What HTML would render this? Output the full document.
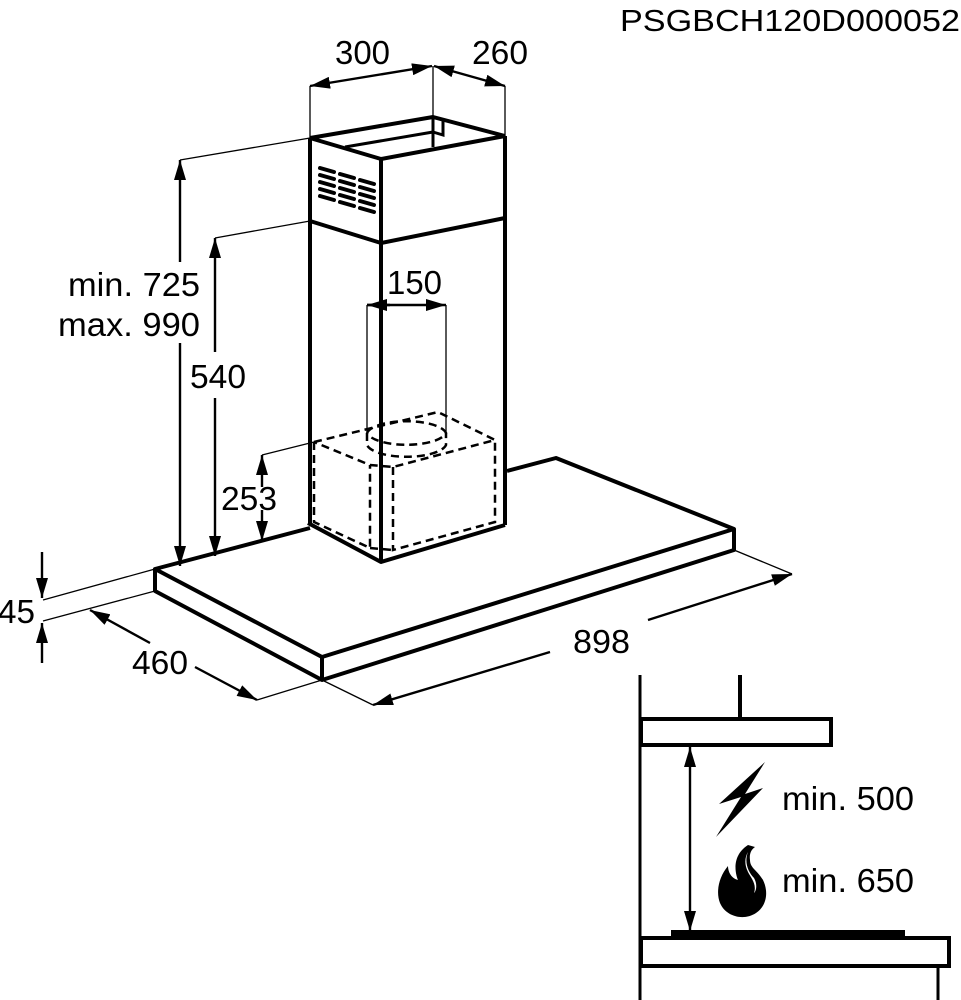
<!DOCTYPE html>
<html><head><meta charset="utf-8"><style>
html,body{margin:0;padding:0;background:#fff;width:961px;height:1000px;overflow:hidden}
svg{display:block}
text{font-family:"Liberation Sans",Arial,sans-serif;fill:#000}
</style></head><body>
<svg width="961" height="1000" viewBox="0 0 961 1000" xmlns="http://www.w3.org/2000/svg">
<defs>
<marker id="a" viewBox="0 0 20 12" refX="20" refY="6" markerWidth="20" markerHeight="12" markerUnits="userSpaceOnUse" orient="auto-start-reverse"><path d="M0,0L20,6L0,12z"/></marker>
</defs>
<text x="960" y="31" font-size="31" text-anchor="end" textLength="340" lengthAdjust="spacingAndGlyphs">PSGBCH120D000052</text>
<g stroke="#000" fill="none">
<g stroke-width="1.3">
<line x1="310" y1="86" x2="310" y2="138"/><line x1="433" y1="66" x2="433" y2="117"/><line x1="505" y1="86" x2="505" y2="136"/>
<line x1="180" y1="160" x2="310" y2="138"/>
<line x1="215" y1="238" x2="310" y2="221"/>
<line x1="262" y1="455" x2="314" y2="442"/>
<line x1="43" y1="600" x2="155" y2="569"/><line x1="43" y1="621" x2="155" y2="591"/>
<line x1="257" y1="700" x2="322" y2="680"/>
<line x1="322" y1="680" x2="373" y2="705"/><line x1="734" y1="550" x2="792" y2="574"/>
<line x1="367" y1="305" x2="367" y2="433"/><line x1="446" y1="305" x2="446" y2="433"/>
</g>
<g stroke-width="2.4">
<line x1="310" y1="86" x2="432" y2="66" marker-start="url(#a)" marker-end="url(#a)"/>
<line x1="434" y1="66" x2="505" y2="86" marker-start="url(#a)" marker-end="url(#a)"/>
<line x1="180" y1="160" x2="180" y2="262" marker-start="url(#a)"/>
<line x1="180" y1="343" x2="180" y2="566" marker-end="url(#a)"/>
<line x1="215" y1="238" x2="215" y2="352" marker-start="url(#a)"/>
<line x1="215" y1="398" x2="215" y2="556" marker-end="url(#a)"/>
<line x1="262" y1="455" x2="262" y2="487" marker-start="url(#a)"/>
<line x1="262" y1="510" x2="262" y2="541" marker-end="url(#a)"/>
<line x1="367" y1="305" x2="446" y2="305" marker-end="url(#a)"/>
<line x1="390" y1="305" x2="367" y2="305" marker-end="url(#a)"/>
<line x1="42" y1="552" x2="42" y2="598" marker-end="url(#a)"/>
<line x1="42" y1="663" x2="42" y2="623" marker-end="url(#a)"/>
<line x1="150" y1="643" x2="90" y2="610" marker-end="url(#a)"/>
<line x1="195" y1="667" x2="257" y2="700" marker-end="url(#a)"/>
<line x1="648" y1="620" x2="792" y2="574" marker-end="url(#a)"/>
<line x1="550" y1="652" x2="373" y2="705" marker-end="url(#a)"/>
<line x1="690" y1="747" x2="690" y2="931" marker-start="url(#a)" marker-end="url(#a)"/>
</g>
<g stroke-width="4" stroke-linejoin="round">
<polyline points="310,528 155,569 322,657 734,529 556,458 507,471"/>
<polyline points="155,569 155,591 322,680 734,550 734,529"/>
<line x1="322" y1="657" x2="322" y2="680"/>
<polyline points="310,138 381,159 505,136"/>
<polyline points="310,138 433,117 505,136"/>
<line x1="310" y1="138" x2="310" y2="523"/>
<line x1="381" y1="159" x2="381" y2="562"/>
<line x1="505" y1="136" x2="505" y2="525"/>
<polyline points="310,221 381,243 505,218"/>
<polyline points="308,523 381,562 505,525"/>
</g>
<g stroke-width="3">
<line x1="345" y1="147" x2="433" y2="132"/><line x1="433" y1="117" x2="433" y2="147"/>
<polyline points="433,117 443,120 443,135 433,132"/>
</g>
<g stroke-width="4" stroke-linecap="round">
<line x1="320" y1="168" x2="334" y2="172"/><line x1="340" y1="174" x2="354" y2="178"/><line x1="360" y1="180" x2="374" y2="184"/>
<line x1="320" y1="175" x2="334" y2="179"/><line x1="340" y1="181" x2="354" y2="185"/><line x1="360" y1="187" x2="374" y2="191"/>
<line x1="320" y1="182" x2="334" y2="186"/><line x1="340" y1="188" x2="354" y2="192"/><line x1="360" y1="194" x2="374" y2="198"/>
<line x1="320" y1="189" x2="334" y2="193"/><line x1="340" y1="195" x2="354" y2="199"/><line x1="360" y1="201" x2="374" y2="205"/>
<line x1="320" y1="196" x2="334" y2="200"/><line x1="340" y1="202" x2="354" y2="206"/><line x1="360" y1="208" x2="374" y2="212"/>
</g>
<g stroke-width="2.5" stroke-dasharray="8,5">
<polyline points="314,442 438,412 495,440 393,467 370,465 314,442"/>
<polyline points="314,442 314,522 370,548 370,465"/>
<polyline points="393,467 393,550 495,522 495,440"/>
<line x1="370" y1="548" x2="393" y2="550"/>
<path d="M367,433 A40,14 0 0 1 446,433 A40,14 0 0 1 367,433"/>
<path d="M367,433 L367,445 A40,14 0 0 0 446,445 L446,433"/>
</g>
<g stroke-width="4">
<line x1="640" y1="675" x2="640" y2="1000" stroke-width="3"/>
<line x1="740" y1="675" x2="740" y2="718"/>
<rect x="641" y="719" width="190" height="26"/>
<rect x="641" y="938" width="308" height="28"/>
<line x1="938" y1="966" x2="938" y2="1000" stroke-width="3"/>
</g>
<rect x="671" y="930" width="234" height="8" fill="#000" stroke="none"/>
</g>
<path d="M765,762 L719,804 L741,797 L716,837 L763,788 L745,794 Z" fill="#000"/>
<path d="M748,845 C728,858 738,880 738,880 C730,878 728,870 728,866 C718,878 716,893 720,903 C726,917 744,921 756,913 C768,905 768,890 763,880 C757,870 750,868 750,860 C749,853 752,849 755,847 Z" fill="#000"/>
<path d="M748,852 C744,862 748,872 754,878 C757,883 757,890 754,893 C757,884 751,878 748,872 C744,864 745,857 748,852Z" fill="#fff"/>
<g font-size="33">
<text x="335" y="64" textLength="55" lengthAdjust="spacingAndGlyphs">300</text>
<text x="472" y="64" textLength="56" lengthAdjust="spacingAndGlyphs">260</text>
<text x="68" y="296" textLength="132" lengthAdjust="spacingAndGlyphs">min. 725</text>
<text x="58" y="336" textLength="142" lengthAdjust="spacingAndGlyphs">max. 990</text>
<text x="190" y="388" textLength="56" lengthAdjust="spacingAndGlyphs">540</text>
<text x="387" y="294" textLength="55" lengthAdjust="spacingAndGlyphs">150</text>
<text x="221" y="510" textLength="56" lengthAdjust="spacingAndGlyphs">253</text>
<text x="-2" y="623" textLength="37" lengthAdjust="spacingAndGlyphs">45</text>
<text x="132" y="674" textLength="56" lengthAdjust="spacingAndGlyphs">460</text>
<text x="573" y="653" textLength="57" lengthAdjust="spacingAndGlyphs">898</text>
<text x="782" y="810" textLength="132" lengthAdjust="spacingAndGlyphs">min. 500</text>
<text x="782" y="892" textLength="132" lengthAdjust="spacingAndGlyphs">min. 650</text>
</g>
</svg>
</body></html>
